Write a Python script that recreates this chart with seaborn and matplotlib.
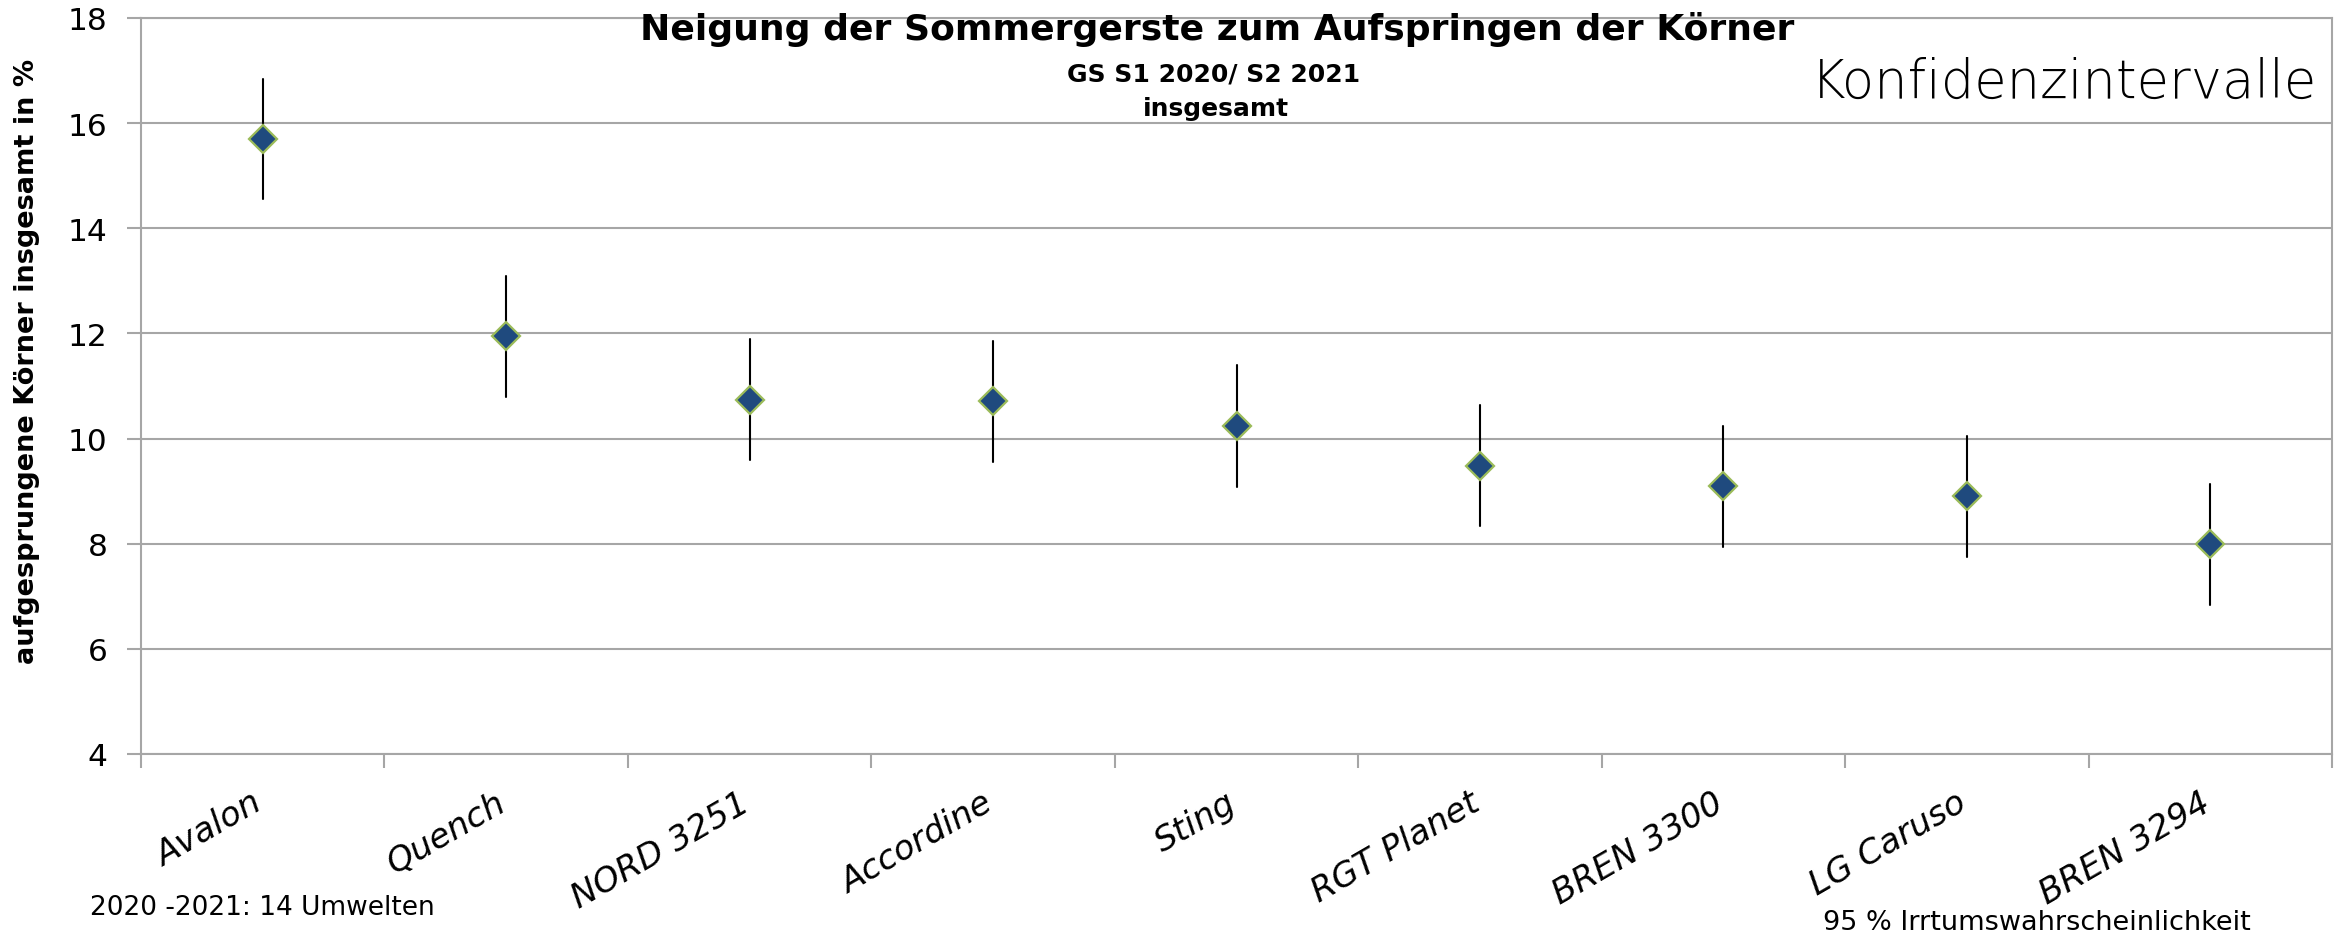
import pandas as pd
import matplotlib
matplotlib.use("Agg")
import matplotlib.pyplot as plt
import matplotlib.transforms as mtransforms
import seaborn as sns

# values
sorten = ["Avalon", "Quench", "NORD 3251", "Accordine", "Sting",
          "RGT Planet", "BREN 3300", "LG Caruso", "BREN 3294"]
mittel = [15.70, 11.95, 10.74, 10.71, 10.24, 9.48, 9.09, 8.90, 7.99]
unten = [14.56, 10.80, 9.59, 9.56, 9.08, 8.33, 7.94, 7.75, 6.84]
oben = [16.84, 13.10, 11.89, 11.86, 11.39, 10.64, 10.24, 10.04, 9.13]
y_ticks = [4, 6, 8, 10, 12, 14, 16, 18]

# long table: median = mean, min/max = confidence limits
rows = []
for s, m, lo, hi in zip(sorten, mittel, unten, oben):
    for v in (lo, m, hi):
        rows.append({"Sorte": s, "Wert": v})
df = pd.DataFrame(rows)

sns.set_style("white")
plt.rcParams["font.family"] = ["DejaVu Sans"]
plt.rcParams["text.color"] = "black"
plt.rcParams["xtick.color"] = "black"
plt.rcParams["ytick.color"] = "black"
plt.rcParams["axes.labelcolor"] = "black"

W, H = 2336, 937
fig = plt.figure(figsize=(W / 100, H / 100), dpi=100)
ax = fig.add_axes([141 / W, 1 - 755 / H, (2332 - 141) / W, (755 - 19) / H])

grey = "#A6A6A6"
sns.pointplot(data=df, x="Sorte", y="Wert", order=sorten, ax=ax,
              estimator="median", errorbar=lambda v: (v.min(), v.max()),
              linestyle="none", marker="D", color="#1F4A7E",
              markersize=14.5, markeredgecolor="#9BBB59", markeredgewidth=1.6,
              zorder=4, err_kws={"color": "black", "linewidth": 1.5, "zorder": 3})

ax.set_xlim(-0.5, len(sorten) - 0.5)
ax.set_ylim(4, 18)
ax.set_yticks(y_ticks)
ax.yaxis.grid(True, color=grey, linewidth=1.5)
ax.set_axisbelow(True)
for sp in ax.spines.values():
    sp.set_color(grey)
    sp.set_linewidth(1.5)

ax.set_xlabel("")
ax.set_ylabel("aufgesprungene Körner insgesamt in %", fontsize=19.5,
              fontweight="bold")
ax.yaxis.set_label_coords(-(141 - 40) / (2332 - 141), 0.535)

ax.tick_params(axis="y", length=10, width=1.5, color=grey, pad=14,
               labelsize=22.5, labelcolor="black", left=True)
ax.set_xticks([i - 0.5 for i in range(len(sorten) + 1)], minor=True)
ax.tick_params(axis="x", which="minor", length=10, width=1.5, color=grey,
               bottom=True)
ax.tick_params(axis="x", which="major", length=0, pad=33, labelsize=24.5,
               labelcolor="black")
offset = mtransforms.ScaledTranslation(-0.03, 0, fig.dpi_scale_trans)
for lab in ax.get_xticklabels():
    lab.set_rotation(30)
    lab.set_ha("right")
    lab.set_va("center")
    lab.set_rotation_mode("anchor")
    lab.set_fontstyle("italic")
    lab.set_transform(lab.get_transform() + offset)

fig.text(1217 / W, 1 - 40 / H, "Neigung der Sommergerste zum Aufspringen der Körner",
         ha="center", va="baseline", fontsize=26, fontweight="bold")
fig.text(1214 / W, 1 - 82 / H, "GS S1 2020/ S2 2021",
         ha="center", va="baseline", fontsize=18, fontweight="bold")
fig.text(1216 / W, 1 - 116 / H, "insgesamt",
         ha="center", va="baseline", fontsize=18, fontweight="bold")
fig.text(2064 / W, 1 - 98 / H, "Konfidenzintervalle",
         ha="center", va="baseline", fontsize=38, fontweight="light")
fig.text(90 / W, 1 - 908 / H, "2020 -2021: 14 Umwelten",
         ha="left", va="center", fontsize=19)
fig.text(2037 / W, 1 - 923 / H, "95 % Irrtumswahrscheinlichkeit",
         ha="center", va="center", fontsize=19.5)

fig.savefig("out.png", dpi=100, facecolor="white")
